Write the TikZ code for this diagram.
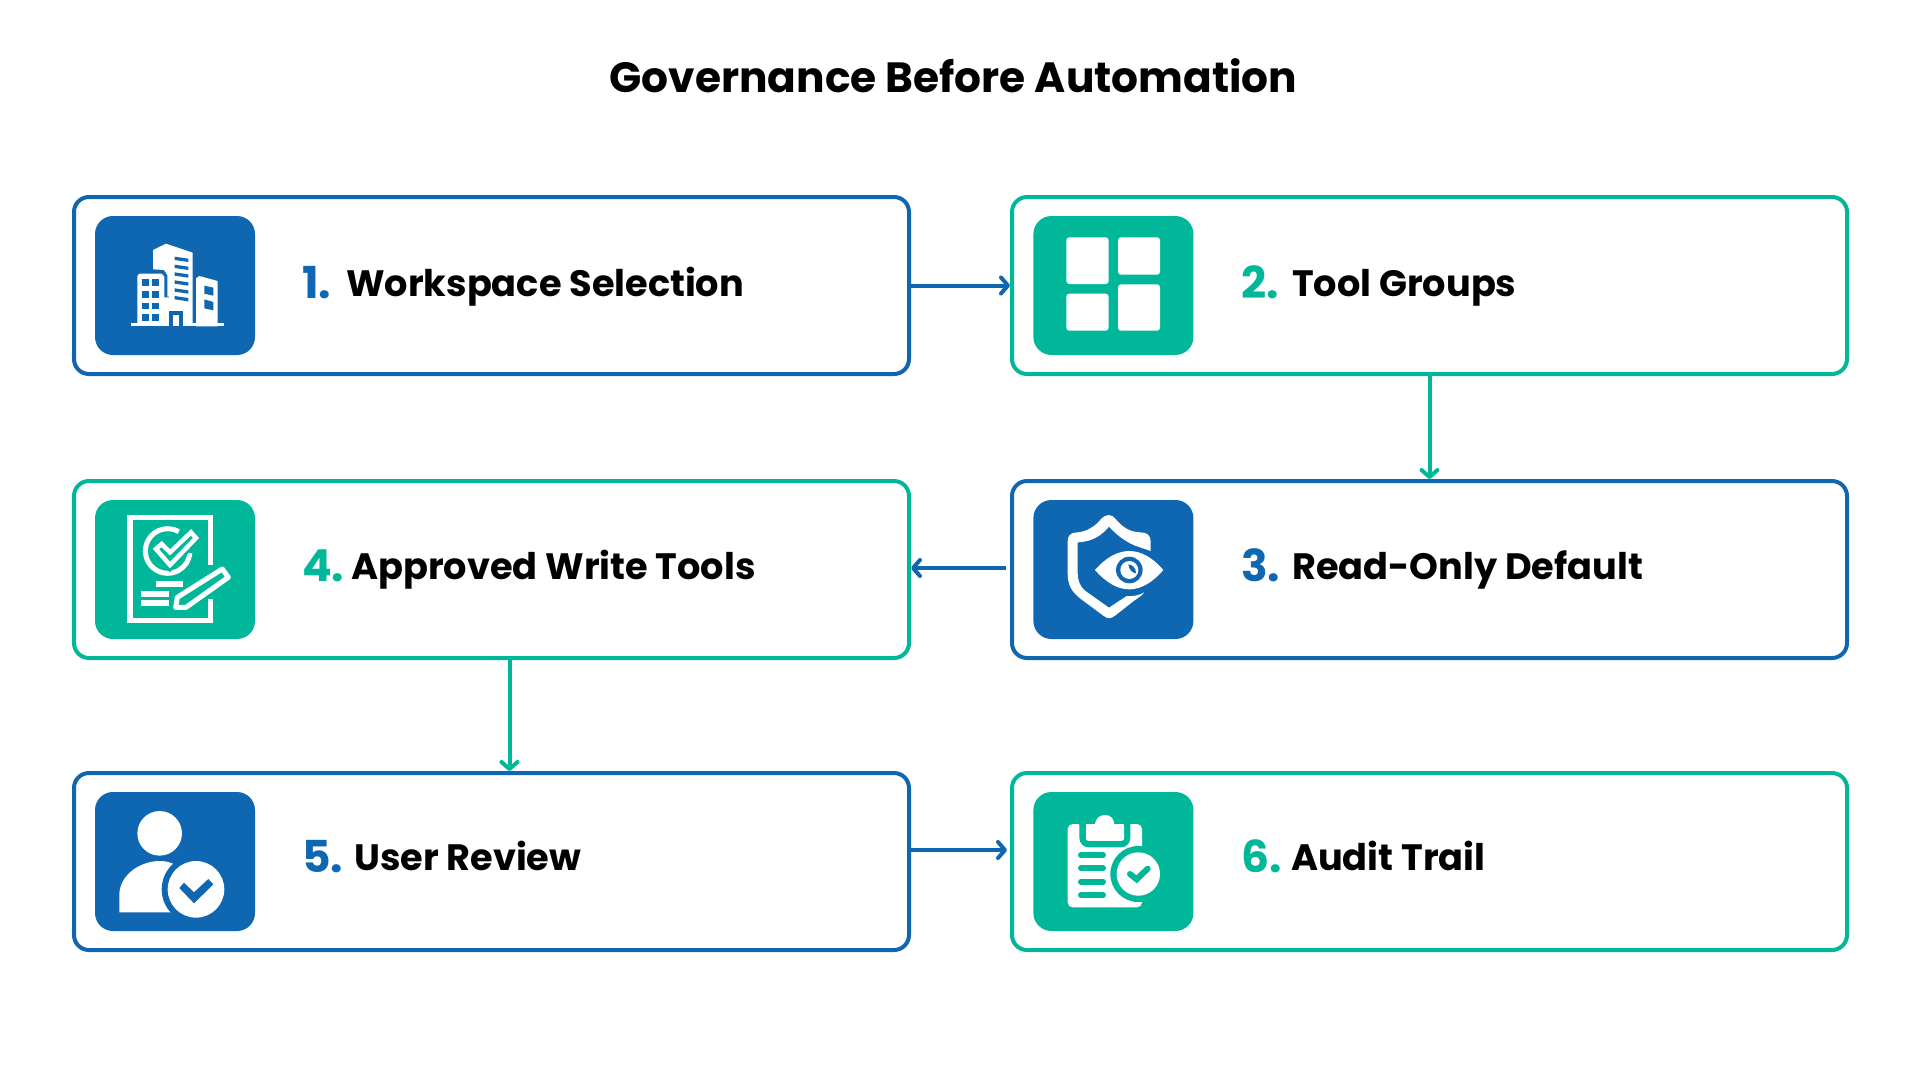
\documentclass[tikz,border=0pt]{standalone}
\usepackage{fontspec}
\setmainfont{Poppins}[UprightFont=* Bold]
\usetikzlibrary{arrows.meta,calc}
\definecolor{bl}{HTML}{0F67B1}
\definecolor{gr}{HTML}{00B899}
\tikzset{
  card/.style={draw=#1,line width=4pt,rounded corners=15pt,minimum width=835pt,minimum height=177pt,inner sep=0pt},
  tile/.style={fill=#1,rounded corners=18pt,minimum width=160pt,minimum height=139pt,inner sep=0pt},
  flow/.style={draw=#1,line width=4pt,-{Straight Barb[length=7pt,width=16pt,line width=4pt,round]}},
  lbl/.style={anchor=base west,inner sep=0pt,font=\fontsize{36.7}{36.7}\selectfont},
  ttl/.style={anchor=base,inner sep=0pt,font=\fontsize{42.3}{42.3}\selectfont},
  zoomed/.style={x=0.33333pt,y=-0.33333pt},
}
\newcommand{\dg}[3]{\makebox[#3][l]{\raisebox{-2pt}{\color{#1}\fontsize{44}{44}\selectfont #2}}}
\begin{document}
\begin{tikzpicture}[x=1pt,y=-1pt]
\useasboundingbox (0,0) rectangle (1920,1080);
\fill[white] (0,0) rectangle (1920,1080);
\node[ttl] (title) at (953.5,92) {Governance Before Automation};
% cards
\node[card=bl] (n1) at (491.5,285.5) {};
\node[card=gr] (n2) at (1429.5,285.5) {};
\node[card=bl] (n3) at (1429.5,569.5) {};
\node[card=gr] (n4) at (491.5,569.5) {};
\node[card=bl] (n5) at (491.5,861.5) {};
\node[card=gr] (n6) at (1429.5,861.5) {};
% tiles
\node[tile=bl] (i1) at (175,285.5) {};
\node[tile=gr] (i2) at (1113.4,285.5) {};
\node[tile=bl] (i3) at (1113.4,569.5) {};
\node[tile=gr] (i4) at (175,569.5) {};
\node[tile=bl] (i5) at (175,861.5) {};
\node[tile=gr] (i6) at (1113.4,861.5) {};
% labels
\node[lbl] (t1) at (302,296) {\dg{bl}{1.}{44pt}Workspace Selection};
\node[lbl] (t2) at (1241,296) {\dg{gr}{2.}{51pt}Tool Groups};
\node[lbl] (t3) at (1241,579) {\dg{bl}{3.}{51pt}Read-Only Default};
\node[lbl] (t4) at (302,579) {\dg{gr}{4.}{49pt}Approved Write Tools};
\node[lbl] (t5) at (302,870.5) {\dg{bl}{5.}{52pt}User Review};
\node[lbl] (t6) at (1241,870.5) {\dg{gr}{6.}{50pt}Audit Trail};
% connectors
\coordinate (d45) at (509.5,0);
\draw[flow=bl] (n1.east) -- (n2.west);
\draw[flow=gr] (n2.south) -- (n3.north);
\draw[flow=bl] ([xshift=-4pt,yshift=1.5pt]n3.west) -- ([yshift=1.5pt]n4.east);
\draw[flow=gr] (n4.south -| d45) -- (n5.north -| d45);
\draw[flow=bl] ([yshift=11.5pt]n5.east) -- ([xshift=-3pt,yshift=11.5pt]n6.west);
% icon 1: buildings
\begin{scope}[xshift=60pt,yshift=-180pt,zoomed]
\fill[white] (212,430) rectangle (492,439);
\fill[white] (279,210)--(318,191)--(398,218)--(398,435)--(328,435)--(328,350)--(322,350)--(322,285)--(312,270)--(279,268)--cycle;
\fill[white] (232,288)--(238,281)--(305,281)--(313,290)--(313,352)--(330,352)--(330,435)--(232,435)--cycle;
\foreach \yy in {297,333,368,403}{\fill[bl] (247,\yy) rectangle (267,\yy+20);\fill[bl] (276,\yy) rectangle (298,\yy+20);}
\foreach \yy in {230,254,277,301,325,348}{\fill[bl] (344,\yy)--(385,\yy+6)--(385,\yy+16)--(344,\yy+10)--cycle;}
\fill[bl] (328,393) rectangle (368,439);
\fill[white] (338,405) rectangle (356,439);
\fill[white] (408,295)--(418,288)--(473,303)--(473,439)--(408,439)--cycle;
\fill[bl] (433,317)--(460,323)--(460,347)--(433,341)--cycle;
\fill[bl] (433,358)--(460,366)--(460,391)--(433,385)--cycle;
\end{scope}
% icon 2: grid
\begin{scope}[xshift=1000pt,yshift=-180pt,zoomed]
\fill[white,rounded corners=3pt] (199,172) rectangle (326,312);
\fill[white,rounded corners=3pt] (354,172) rectangle (480,284);
\fill[white,rounded corners=3pt] (199,341) rectangle (326,452);
\fill[white,rounded corners=3pt] (354,313) rectangle (480,452);
\end{scope}
% icon 3: shield and eye
\begin{scope}[xshift=1000pt,yshift=-470pt,zoomed]
\fill[white] (452,243) -- (452,215) .. controls (452,195) and (440,187) .. (420,187) .. controls (390,185) and (370,175) .. (345,145) .. controls (335,132) and (318,132) .. (305,145) .. controls (285,170) and (260,185) .. (232,187) .. controls (212,188) and (203,195) .. (203,215) -- (203,310) .. controls (203,345) and (215,365) .. (240,385) -- (310,437) .. controls (322,447) and (332,447) .. (345,437) -- (405,390) .. controls (420,380) and (428,375) .. (432,367) .. controls (420,376) and (395,380) .. (380,378) -- (327,413) -- (255,362) .. controls (240,350) and (233,330) .. (233,310) -- (233,217) .. controls (280,215) and (305,195) .. (327,170) .. controls (350,195) and (380,220) .. (420,232) -- cycle;
\fill[white] (285,300) .. controls (320,260) and (355,243) .. (388,243) .. controls (425,243) and (460,265) .. (490,300) .. controls (460,335) and (425,358) .. (388,358) .. controls (355,358) and (320,340) .. (285,300) -- cycle;
\fill[bl] (388,300) circle[radius=13.3pt];
\fill[white] (388,300) circle[radius=9pt];
\fill[bl] (385,283) .. controls (400,285) and (408,295) .. (408,310) .. controls (395,308) and (387,298) .. (385,283) -- cycle;
\end{scope}
% icon 4: document
\begin{scope}[xshift=60pt,yshift=-470pt,zoomed]
\draw[white,line width=5.5pt] (452,285) -- (452,143) -- (210,143) -- (210,452) -- (452,452) -- (452,388);
\draw[white,line width=5pt] (356.5,185) arc[start angle=60,end angle=355,radius=22.3pt];
\draw[gr,line width=10pt] (288,237)--(305,222)--(330,247)--(393,187)--(408,204)--(330,285)--cycle;
\draw[white,line width=4.5pt] (288,237)--(305,222)--(330,247)--(393,187)--(408,204)--(330,285)--cycle;
\fill[white] (289,334) rectangle (370,352);
\fill[white] (242,364) rectangle (328,382);
\fill[white] (242,390) rectangle (328,408);
\draw[white,line width=5pt,line join=round] (487,297)--(505,322)--(378,412)--(347,412)--(352,382)--cycle;
\end{scope}
% icon 5: user
\begin{scope}[xshift=60pt,yshift=-770pt,zoomed]
\fill[white] (299,190) circle[radius=22.3pt];
\fill[white] (178,427) -- (178,375) .. controls (178,315) and (240,273) .. (300,273) .. controls (330,273) and (350,285) .. (370,300) -- (370,427) -- cycle;
\fill[bl] (408,358) circle[radius=34.3pt];
\fill[white] (408,358) circle[radius=28.3pt];
\fill[bl] (372,338)--(402,367)--(445,327)--(460,343)--(402,400)--(358,354)--cycle;
\end{scope}
% icon 6: clipboard
\begin{scope}[xshift=1000pt,yshift=-770pt,zoomed]
\fill[white,rounded corners=5pt] (203,162) rectangle (426,412);
\draw[gr,line width=6.5pt,rounded corners=6pt] (248,160) -- (248,222) -- (381,222) -- (381,160);
\fill[white,rounded corners=2pt] (258,165) rectangle (372,212);
\fill[white] (285,168) .. controls (285,145) and (298,135) .. (315,135) .. controls (332,135) and (343,145) .. (343,168) -- cycle;
\fill[gr] (238,150) rectangle (258,165);
\fill[gr] (371,150) rectangle (391,165);
\foreach \yy in {255,295,335,376}{\draw[gr,line width=6pt,line cap=round] (243,\yy) -- (309,\yy);}
\fill[gr] (415,312) circle[radius=28pt];
\fill[white] (415,312) circle[radius=21.7pt];
\draw[gr,line width=6pt,line cap=round,line join=miter] (390,312)--(410,328)--(443,296);
\end{scope}
\end{tikzpicture}
\end{document}
